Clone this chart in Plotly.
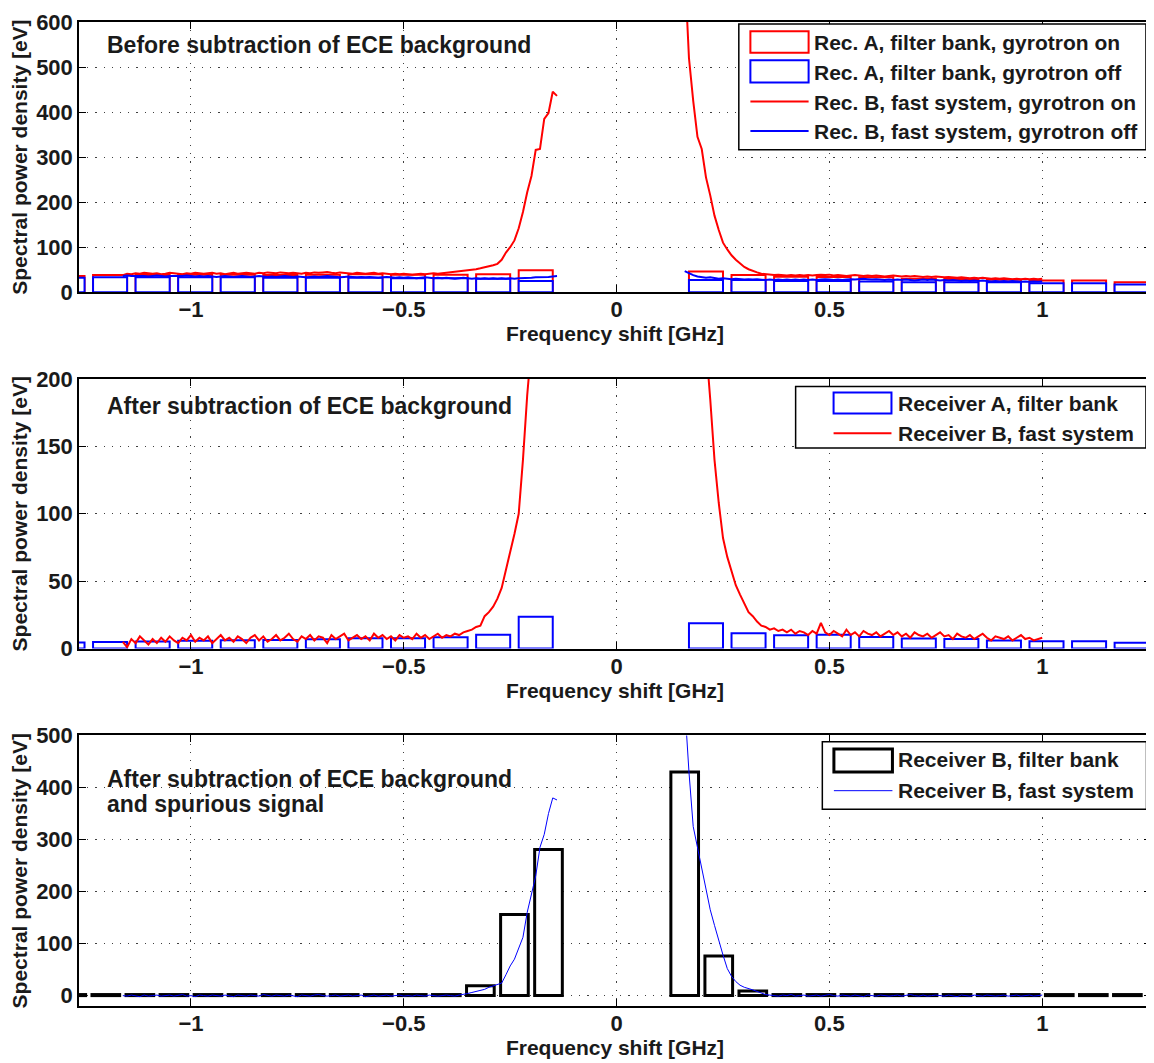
import plotly.graph_objects as go

# ---------------- data ----------------
# fast-system frequency grids (GHz)
XL = [-1.16,-1.15,-1.14,-1.13,-1.12,-1.11,-1.10,-1.09,-1.08,-1.07,
      -1.06,-1.05,-1.04,-1.03,-1.02,-1.01,-1.00,-0.99,-0.98,-0.97,
      -0.96,-0.95,-0.94,-0.93,-0.92,-0.91,-0.90,-0.89,-0.88,-0.87,
      -0.86,-0.85,-0.84,-0.83,-0.82,-0.81,-0.80,-0.79,-0.78,-0.77,
      -0.76,-0.75,-0.74,-0.73,-0.72,-0.71,-0.70,-0.69,-0.68,-0.67,
      -0.66,-0.65,-0.64,-0.63,-0.62,-0.61,-0.60,-0.59,-0.58,-0.57,
      -0.56,-0.55,-0.54,-0.53,-0.52,-0.51,-0.50,-0.49,-0.48,-0.47,
      -0.46,-0.45,-0.44,-0.43,-0.42,-0.41,-0.40,-0.39,-0.38,-0.37,
      -0.36,-0.35,-0.34,-0.33,-0.32,-0.31,-0.30,-0.29,-0.28,-0.27,
      -0.26,-0.25,-0.24,-0.23,-0.22,-0.21,-0.20,-0.19,-0.18,-0.17,
      -0.16,-0.15,-0.14]
XR = [0.16,0.17,0.18,0.19,0.20,0.21,0.22,0.23,0.24,0.25,
      0.26,0.27,0.28,0.29,0.30,0.31,0.32,0.33,0.34,0.35,
      0.36,0.37,0.38,0.39,0.40,0.41,0.42,0.43,0.44,0.45,
      0.46,0.47,0.48,0.49,0.50,0.51,0.52,0.53,0.54,0.55,
      0.56,0.57,0.58,0.59,0.60,0.61,0.62,0.63,0.64,0.65,
      0.66,0.67,0.68,0.69,0.70,0.71,0.72,0.73,0.74,0.75,
      0.76,0.77,0.78,0.79,0.80,0.81,0.82,0.83,0.84,0.85,
      0.86,0.87,0.88,0.89,0.90,0.91,0.92,0.93,0.94,0.95,
      0.96,0.97,0.98,0.99,1.00]

# Rec. B fast system, gyrotron on / off (eV)
TOP_ON_L = [38,41,40,42,41,43,42,41,42,40,
            41,43,42,41,40,42,41,43,42,41,
            42,43,41,42,40,42,43,41,42,43,
            42,41,43,42,44,43,42,44,43,42,
            43,42,41,43,42,44,43,44,45,43,
            42,44,43,42,41,43,42,41,42,43,
            41,42,41,40,41,40,41,40,39,40,
            41,40,41,42,41,42,43,44,45,47,
            48,49,50,51,53,55,57,60,63,72,
            88,100,115,142,178,222,258,316,318,385,
            398,445,436]
TOP_OFF_L = [36,37,36,36,37,36,35,36,37,36,
             35,36,36,35,36,37,36,35,36,35,
             36,35,34,35,36,35,34,35,36,35,
             34,35,36,35,34,35,34,35,36,35,
             34,35,34,33,34,35,34,35,36,35,
             34,33,34,35,34,33,34,33,34,33,
             32,33,34,33,32,33,32,33,32,31,
             32,33,32,31,32,31,32,31,30,31,
             32,31,30,31,30,31,30,31,30,31,
             30,31,30,31,31,32,32,33,33,34,
             34,35,36]
TOP_ON_R = [720,520,425,345,318,255,215,170,138,110,
            95,82,72,63,56,51,47,44,41,40,
            39,38,39,38,37,38,37,38,37,38,
            37,38,39,38,39,37,38,37,36,37,
            38,37,36,37,36,37,36,35,36,37,
            36,35,36,35,36,35,34,35,34,35,
            34,33,34,33,32,33,32,31,32,31,
            32,31,30,31,30,31,30,29,30,29,
            30,29,30,29,30]
TOP_OFF_R = [47,42,38,35,34,32,33,31,30,31,
             30,29,30,29,28,29,28,29,28,27,
             28,27,28,27,28,27,28,27,28,27,
             28,27,28,29,28,27,28,27,28,29,
             28,29,30,29,28,29,28,27,28,27,
             28,27,28,27,26,27,28,27,28,27,
             26,27,26,27,26,25,26,25,26,25,
             26,25,24,25,24,25,24,25,24,23,
             24,23,24,23,24]

# Receiver B fast system after ECE background subtraction (eV)
MID_L = [5,1,7,4,9,6,3,7,4,8,
         5,9,6,4,8,6,10,5,8,6,
         9,4,7,10,6,8,5,9,7,4,
         8,10,6,9,5,7,10,6,8,11,
         7,5,9,7,10,6,9,8,4,10,
         7,9,11,6,8,10,7,9,6,11,
         8,10,7,9,6,10,8,9,7,11,
         8,10,7,9,11,8,10,9,11,10,
         12,13,14,16,17,24,27,31,37,45,
         58,70,85,100,140,188,230,280,290,350,
         365,410,400]
MID_R = [680,480,380,320,285,225,185,140,108,82,
         68,58,47,40,33,27,24,20,17,16,
         14,15,13,14,12,14,11,13,12,10,
         13,11,19,12,10,13,11,9,14,10,
         12,9,13,11,10,12,9,11,13,10,
         12,9,11,8,12,10,9,11,8,10,
         12,9,10,7,11,9,8,10,7,9,
         11,8,6,9,8,7,9,6,8,10,
         7,8,6,7,8]

# Receiver B fast system after ECE background and spurious signal subtraction (eV)
BOT_L = [0,-1,1,0,-2,1,-1,0,1,-1,
         0,1,-1,0,2,-1,0,-2,1,0,
         -1,1,0,-1,1,0,-2,1,0,-1,
         1,0,-1,2,0,-1,1,0,-1,1,
         0,-2,1,0,-1,1,2,0,-1,0,
         1,-1,0,1,-1,0,1,-2,0,1,
         -1,0,1,-1,0,1,-1,0,-1,1,
         0,-1,1,0,-1,0,1,0,-1,1,
         2,4,6,8,11,12,16,19,22,24,
         40,57,70,92,112,160,195,230,285,310,
         350,380,376]
BOT_R = [560,430,325,285,250,205,165,135,105,78,
         52,37,27,20,16,14,11,8,5,2,
         1,0,-1,1,0,2,-1,0,1,-1,
         0,1,-1,0,2,0,-1,1,0,-1,
         1,0,-2,1,0,-1,1,0,-1,0,
         1,-1,0,2,0,-1,1,-1,0,1,
         0,-1,1,0,-2,1,0,-1,1,0,
         -1,1,0,-1,0,1,-1,0,1,-1,
         0,1,-1,0,1]

# Receiver A filter bank channels
FB_A_X = [-1.29,-1.19,-1.09,-0.99,-0.89,-0.79,-0.69,-0.59,-0.49,-0.39,-0.29,-0.19,
          0.21,0.31,0.41,0.51,0.61,0.71,0.81,0.91,1.01,1.11,1.21]
FB_A_ON = [36,38,38,39,39,38,39,40,39,39,40,49,
           46,38,34.5,34,33,30,29.5,27.5,26,26,22]
FB_A_OFF = [32,33,33,33,33,32,32,32,31,31,30,25,
            27,27,25,25,24,22,22,22,20,20,17]
FB_A_DIFF = [4.4,4.9,5.2,5.7,6.2,6.4,6.9,7.6,7.6,8.4,10.3,23.6,
             18.7,11.3,9.9,10.3,8.6,7.4,7.1,5.9,5.4,5.4,4.2]

# Receiver B filter bank channels
FB_B_X = [-1.28,-1.20,-1.12,-1.04,-0.96,-0.88,-0.80,-0.72,-0.64,-0.56,-0.48,-0.40,
          -0.32,-0.24,-0.16,0.16,0.24,0.32,0.40,0.48,0.56,0.64,0.72,0.80,0.88,
          0.96,1.04,1.12,1.20]
FB_B = [2,2,2,2,2,2,2,2,2,2,2,2,
        19,156,281,430,76,9,2,2,2,2,2,2,2,
        2,2,2,2]

XTICKS = [-1, -0.5, 0, 0.5, 1]
YTICKS_TOP = [0, 100, 200, 300, 400, 500, 600]
YTICKS_MID = [0, 50, 100, 150, 200]
YTICKS_BOT = [0, 100, 200, 300, 400, 500]

TITLES = ["Before subtraction of ECE background",
          "After subtraction of ECE background",
          "After subtraction of ECE background",
          "and spurious signal"]
LEG1 = ["Rec. A, filter bank, gyrotron on", "Rec. A, filter bank, gyrotron off",
        "Rec. B, fast system, gyrotron on", "Rec. B, fast system, gyrotron off"]
LEG2 = ["Receiver A, filter bank", "Receiver B, fast system"]
LEG3 = ["Receiver B, filter bank", "Receiver B, fast system"]

# ---------------- figure ----------------
FONT = "Liberation Sans, Arial, Helvetica, sans-serif"
TXT = "#1a1a1a"
RED = "#ff0000"
BLUE = "#0000ff"

fig = go.Figure()

def bar(x, y, color, lw, width, xa, ya):
    fig.add_trace(go.Bar(x=x, y=y, width=width, xaxis=xa, yaxis=ya,
                         marker=dict(color="white", line=dict(color=color, width=lw)),
                         showlegend=False, hoverinfo="skip"))

def line(x, y, color, lw, xa, ya):
    fig.add_trace(go.Scatter(x=x, y=y, mode="lines", xaxis=xa, yaxis=ya,
                             line=dict(color=color, width=lw),
                             showlegend=False, hoverinfo="skip"))

# panel 1
bar(FB_A_X, FB_A_ON, RED, 2, 0.08, "x", "y")
bar(FB_A_X, FB_A_OFF, BLUE, 2, 0.08, "x", "y")
line(XL, TOP_ON_L, RED, 2, "x", "y")
line(XR, TOP_ON_R, RED, 2, "x", "y")
line(XL, TOP_OFF_L, BLUE, 2, "x", "y")
line(XR, TOP_OFF_R, BLUE, 2, "x", "y")
# panel 2
bar(FB_A_X, FB_A_DIFF, BLUE, 2, 0.08, "x2", "y2")
line(XL, MID_L, RED, 2, "x2", "y2")
line(XR, MID_R, RED, 2, "x2", "y2")
# panel 3
bar(FB_B_X, FB_B, "black", 3, 0.065, "x3", "y3")
line(XL, BOT_L, BLUE, 1, "x3", "y3")
line(XR, BOT_R, BLUE, 1, "x3", "y3")

XRANGE = [-1.263, 1.2555]

def xax(anchor):
    return dict(range=XRANGE, anchor=anchor, domain=[0, 1], tickvals=XTICKS,
                ticks="inside", ticklen=7, tickwidth=1.2, tickcolor="black",
                showline=True, linecolor="black", linewidth=1.5, mirror="ticks",
                showgrid=True, gridcolor="rgba(0,0,0,0.75)", gridwidth=1,
                griddash="1.2px,7px", zeroline=False, ticklabelstandoff=-3,
                tickfont=dict(family=FONT, size=22, color=TXT, weight="bold"),
                title=dict(text="Frequency shift [GHz]", standoff=4,
                           font=dict(family=FONT, size=21, color=TXT, weight="bold")))

def yax(anchor, dom, rng, tv):
    return dict(range=rng, anchor=anchor, domain=dom, tickvals=tv,
                ticks="inside", ticklen=7, tickwidth=1.2, tickcolor="black",
                showline=True, linecolor="black", linewidth=1.5, mirror="ticks",
                showgrid=True, gridcolor="rgba(0,0,0,0.75)", gridwidth=1,
                griddash="1.2px,7px", zeroline=False,
                tickfont=dict(family=FONT, size=22, color=TXT, weight="bold"),
                title=dict(text="Spectral power density [eV]", standoff=6,
                           font=dict(family=FONT, size=21, color=TXT, weight="bold")))

# the page body has an 8 px margin, so the figure is sized/offset to compensate
fig.update_layout(
    width=1146, height=1055,
    margin=dict(l=71, r=1.5, t=6, b=56.5),
    paper_bgcolor="white", plot_bgcolor="white",
    barmode="overlay", showlegend=False,
    font=dict(family=FONT, color=TXT),
    xaxis=xax("y"), yaxis=yax("x", [0.7254, 1.0], [0, 600], YTICKS_TOP),
    xaxis2=xax("y2"), yaxis2=yax("x2", [0.3633, 0.6372], [0, 200], YTICKS_MID),
    xaxis3=xax("y3"), yaxis3=yax("x3", [0.0, 0.2749], [-20, 500], YTICKS_BOT),
)

TFONT = dict(family=FONT, size=23, color=TXT, weight="bold")
LFONT = dict(family=FONT, size=21, color=TXT, weight="bold")

def note(text, xr, yr, x, y, font):
    fig.add_annotation(text=text, xref=xr, yref=yr, x=x, y=y, xanchor="left",
                       yanchor="middle", showarrow=False, font=font)

# panel titles
note(TITLES[0], "x domain", "y domain", 0.024, 0.916, TFONT)
note(TITLES[1], "x2 domain", "y2 domain", 0.024, 0.898, TFONT)
note(TITLES[2], "x3 domain", "y3 domain", 0.024, 0.84, TFONT)
note(TITLES[3], "x3 domain", "y3 domain", 0.024, 0.748, TFONT)

def box(xr, yr, x0, y0, x1, y1, color, lw, fill="rgba(0,0,0,0)"):
    fig.add_shape(type="rect", xref=xr, yref=yr, x0=x0, y0=y0, x1=x1, y1=y1,
                  line=dict(color=color, width=lw), fillcolor=fill, layer="above")

def seg(xr, yr, x0, x1, y, color, lw):
    fig.add_shape(type="line", xref=xr, yref=yr, x0=x0, y0=y, x1=x1, y1=y,
                  line=dict(color=color, width=lw), layer="above")

# legend panel 1
box("x domain", "y domain", 0.6155, 0.527, 0.9953, 0.9927, "black", 1.5, "white")
box("x domain", "y domain", 0.6263, 0.886, 0.6806, 0.966, RED, 2)
box("x domain", "y domain", 0.6263, 0.776, 0.6806, 0.858, BLUE, 2)
seg("x domain", "y domain", 0.6263, 0.6806, 0.7055, RED, 2)
seg("x domain", "y domain", 0.6263, 0.6806, 0.597, BLUE, 2)
for t, yy in zip(LEG1, [0.923, 0.813, 0.703, 0.596]):
    note(t, "x domain", "y domain", 0.684, yy, LFONT)

# legend panel 2
box("x2 domain", "y2 domain", 0.6685, 0.7438, 0.9953, 0.9717, "black", 1.5, "white")
box("x2 domain", "y2 domain", 0.7039, 0.8724, 0.7579, 0.9496, BLUE, 2)
seg("x2 domain", "y2 domain", 0.7039, 0.7579, 0.7989, RED, 2)
for t, yy in zip(LEG2, [0.9092, 0.7989]):
    note(t, "x2 domain", "y2 domain", 0.762, yy, LFONT)

# legend panel 3
box("x3 domain", "y3 domain", 0.6934, 0.7273, 0.9958, 0.9772, "black", 1.5, "white")
box("x3 domain", "y3 domain", 0.7042, 0.8646, 0.7588, 0.9497, "black", 3)
seg("x3 domain", "y3 domain", 0.7042, 0.7588, 0.796, BLUE, 1)
for t, yy in zip(LEG3, [0.9119, 0.796]):
    note(t, "x3 domain", "y3 domain", 0.762, yy, LFONT)

fig.write_html("out.html")
